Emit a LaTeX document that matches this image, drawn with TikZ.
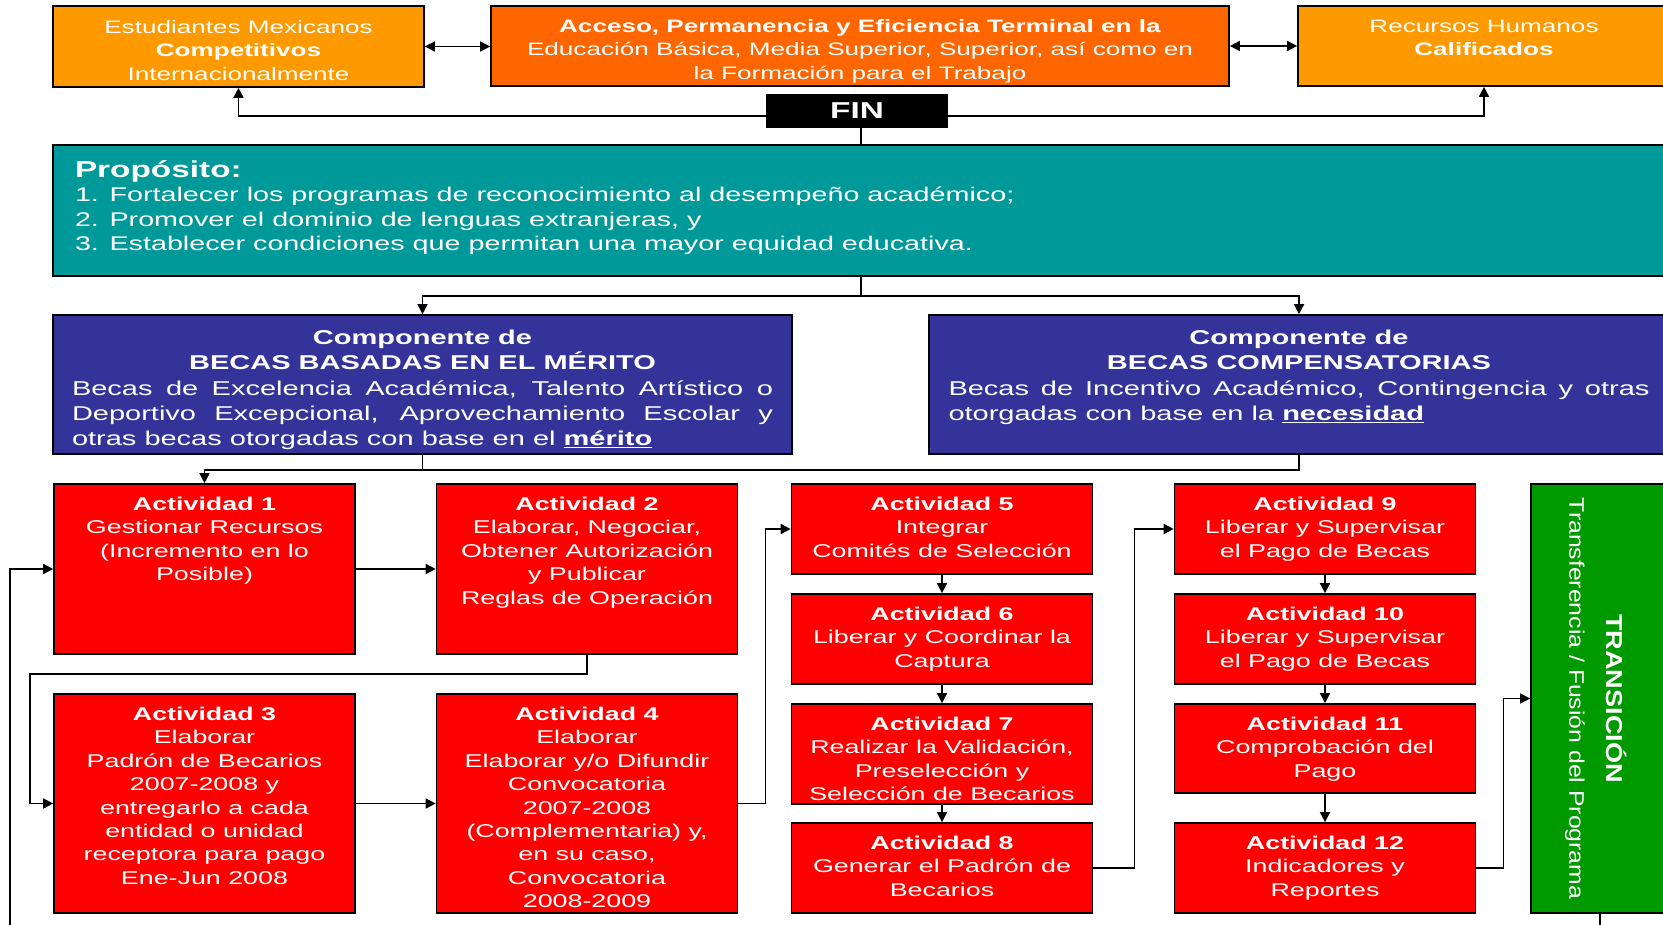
\documentclass[tikz,border=0pt]{standalone}
\usepackage{fontspec}
\setmainfont{Liberation Sans}[FakeStretch=1.45]
\newfontfamily\rotfont{Liberation Sans}[FakeStretch=1.18]
\usetikzlibrary{arrows.meta}
\definecolor{finorange}{RGB}{255,153,0}
\definecolor{accorange}{RGB}{255,102,0}
\definecolor{propteal}{RGB}{0,153,153}
\definecolor{compblue}{RGB}{51,51,153}
\definecolor{actred}{RGB}{255,0,0}
\definecolor{transgreen}{RGB}{0,153,0}
\setlength{\parindent}{0pt}

\begin{document}
\begin{tikzpicture}[
    x = 1pt, y = -1pt,
    line width = 1.7pt,
    >= {Triangle[length=10pt, width=10pt]},
    box/.style = {draw, rectangle, inner sep=0pt},
    act/.style = {box, fill=actred, minimum width=301pt},
    txt/.style = {anchor=north, align=center, text=white, inner sep=0pt},
    toptxt/.style = {txt, font=\fontsize{18}{23.5}\selectfont},
    comptxt/.style = {txt, text width=701pt, align=justify, font=\fontsize{20}{25.3}\selectfont},
    acttxt/.style = {txt, font=\fontsize{18.5}{23.4}\selectfont}
  ]
  \useasboundingbox (0,0) rectangle (1663,925);
  \clip (0,0) rectangle (1663,925);

  % Fin
  \node[box, fill=finorange, minimum width=371pt, minimum height=81pt] (est) at (238.5,46.5) {};
  \node[box, fill=accorange, minimum width=738pt, minimum height=80pt] (acc) at (860,46) {};
  \node[box, fill=finorange, minimum width=372pt, minimum height=80pt] (rec) at (1484,46) {};
  \node[box, fill=black, minimum width=180pt, minimum height=32pt, text=white,
        font=\fontsize{23}{23}\selectfont\bfseries] (fin) at (857,111) {FIN};
  \node[toptxt] (estt) at ([yshift=-14pt]est.north) {Estudiantes Mexicanos\\\textbf{Competitivos}\\Internacionalmente};
  \node[toptxt] (acct) at ([yshift=-13pt]acc.north) {\textbf{Acceso, Permanencia y Eficiencia Terminal en la}\\Educación Básica, Media Superior, Superior, así como en\\la Formación para el Trabajo};
  \node[toptxt] (rect) at ([yshift=-14pt]rec.north) {Recursos Humanos\\\textbf{Calificados}};

  % Proposito
  \node[box, fill=propteal, minimum width=1616pt, minimum height=131pt] (prop) at (861,210.5) {};
  \node[txt, anchor=north west, align=left, font=\fontsize{23}{23}\selectfont\bfseries] (propt)
    at ([xshift=22pt, yshift=-16pt]prop.north west) {Propósito:};
  \node[txt, anchor=north west, align=left, font=\fontsize{19.8}{24.7}\selectfont] (propl)
    at ([xshift=22pt, yshift=-42pt]prop.north west)
    {1. Fortalecer los programas de reconocimiento al desempeño académico;\\
     2. Promover el dominio de lenguas extranjeras, y\\
     3. Establecer condiciones que permitan una mayor equidad educativa.};

  % Componentes
  \node[box, fill=compblue, minimum width=739pt, minimum height=139pt] (cmp1) at (422.5,384.5) {};
  \node[box, fill=compblue, minimum width=740pt, minimum height=139pt] (cmp2) at (1299,384.5) {};
  \node[comptxt] (cmp1t) at ([yshift=-15pt]cmp1.north)
    {{\centering\bfseries Componente de\par BECAS BASADAS EN EL MÉRITO\par}
     Becas de Excelencia Académica, Talento Artístico o\linebreak
     Deportivo Excepcional, Aprovechamiento Escolar y\linebreak
     otras becas otorgadas con base en el \underline{\textbf{mérito}}};
  \node[comptxt] (cmp2t) at ([yshift=-15pt]cmp2.north)
    {{\centering\bfseries Componente de\par BECAS COMPENSATORIAS\par}
     Becas de Incentivo Académico, Contingencia y otras\linebreak
     otorgadas con base en la \underline{\textbf{necesidad}}};

  % Actividades
  \node[act, minimum height=170pt] (a1) at (204.5,569) {};
  \node[act, minimum height=170pt] (a2) at (587,569) {};
  \node[act, minimum height=219pt] (a3) at (204.5,803.5) {};
  \node[act, minimum height=219pt] (a4) at (587,803.5) {};
  \node[act, minimum height=90pt] (a5) at (942,529) {};
  \node[act, minimum height=90pt] (a6) at (942,639) {};
  \node[act, minimum height=100pt] (a7) at (942,754) {};
  \node[act, minimum height=90pt] (a8) at (942,868) {};
  \node[act, minimum height=90pt] (a9) at (1325,529) {};
  \node[act, minimum height=90pt] (a10) at (1325,639) {};
  \node[act, minimum height=89pt] (a11) at (1325,748.5) {};
  \node[act, minimum height=90pt] (a12) at (1325,868) {};
  \node[box, fill=transgreen, minimum width=138pt, minimum height=429pt] (trans) at (1600,698.5) {};

  \node[acttxt] (a1t) at ([yshift=-13pt]a1.north) {\textbf{Actividad 1}\\Gestionar Recursos\\(Incremento en lo\\Posible)};
  \node[acttxt] (a2t) at ([yshift=-13pt]a2.north) {\textbf{Actividad 2}\\Elaborar, Negociar,\\Obtener Autorización\\y Publicar\\Reglas de Operación};
  \node[acttxt] (a3t) at ([yshift=-13pt]a3.north) {\textbf{Actividad 3}\\Elaborar\\Padrón de Becarios\\2007-2008 y\\entregarlo a cada\\entidad o unidad\\receptora para pago\\Ene-Jun 2008};
  \node[acttxt] (a4t) at ([yshift=-13pt]a4.north) {\textbf{Actividad 4}\\Elaborar\\Elaborar y/o Difundir\\Convocatoria\\2007-2008\\(Complementaria) y,\\en su caso,\\Convocatoria\\2008-2009};
  \node[acttxt] (a5t) at ([yshift=-13pt]a5.north) {\textbf{Actividad 5}\\Integrar\\Comités de Selección};
  \node[acttxt] (a6t) at ([yshift=-13pt]a6.north) {\textbf{Actividad 6}\\Liberar y Coordinar la\\Captura};
  \node[acttxt] (a7t) at ([yshift=-13pt]a7.north) {\textbf{Actividad 7}\\Realizar la Validación,\\Preselección y\\Selección de Becarios};
  \node[acttxt] (a8t) at ([yshift=-13pt]a8.north) {\textbf{Actividad 8}\\Generar el Padrón de\\Becarios};
  \node[acttxt] (a9t) at ([yshift=-13pt]a9.north) {\textbf{Actividad 9}\\Liberar y Supervisar\\el Pago de Becas};
  \node[acttxt] (a10t) at ([yshift=-13pt]a10.north) {\textbf{Actividad 10}\\Liberar y Supervisar\\el Pago de Becas};
  \node[acttxt] (a11t) at ([yshift=-13pt]a11.north) {\textbf{Actividad 11}\\Comprobación del\\Pago};
  \node[acttxt] (a12t) at ([yshift=-13pt]a12.north) {\textbf{Actividad 12}\\Indicadores y\\Reportes};
  \node[txt, anchor=center, rotate=-90, font=\rotfont\fontsize{23}{23}\selectfont\bfseries] (transt)
    at ([xshift=17pt]trans.center) {TRANSICIÓN};
  \node[txt, anchor=center, rotate=-90, font=\rotfont\fontsize{21}{21}\selectfont] (transs)
    at ([xshift=-25pt]trans.center) {Transferencia / Fusión del Programa};

  % Conexiones
  \draw[<->] (est.east) -- (est.east -| acc.west);
  \draw[<->] (acc.east) -- (acc.east -| rec.west);
  \draw[->] ([yshift=-5pt]fin.west) -| (est.south);
  \draw[->] ([yshift=-5pt]fin.east) -| (rec.south);
  \draw (prop.north) -- (prop.north |- fin.south);
  \draw[->] (prop.south) -- ++(0,19) -| (cmp1.north);
  \draw[->] (prop.south) -- ++(0,19) -| (cmp2.north);
  \draw[->] (cmp2.south) -- ++(0,15) -| (a1.north);
  \draw (cmp1.south) -- ++(0,15);
  \draw[->] (a1) -- (a2);
  \draw[->] (a2.south) -- ++(0,19) -| ([xshift=-23pt]a3.west) -- (a3.west);
  \draw[->] (a3) -- (a4);
  \draw[->] (a4.east) -- ++(27,0) |- (a5.west);
  \foreach \i/\j in {a5/a6, a6/a7, a7/a8, a9/a10, a10/a11, a11/a12}
    \draw[->] (\i) -- (\j);
  \draw[->] (a8.east) -- ++(41,0) |- (a9.west);
  \draw[->] (a12.east) -- ++(27,0) |- (trans.west);
  \draw[->] (trans.south) -- ++(0,40) -| ([xshift=-43pt]a1.west) -- (a1.west);
\end{tikzpicture}
\end{document}
